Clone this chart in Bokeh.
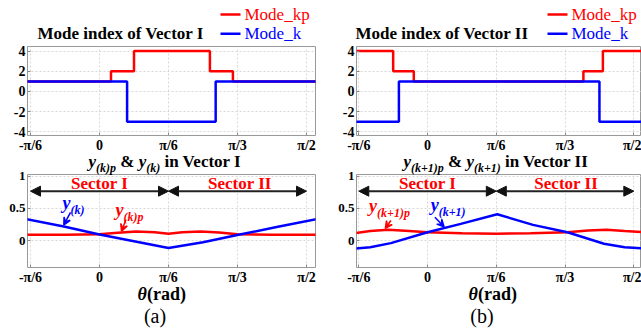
from bokeh.plotting import figure
from bokeh.layouts import row, column
from bokeh.models import FixedTicker, Label, Arrow, NormalHead, VeeHead, Range1d
from bokeh.embed import file_html
from bokeh.resources import INLINE

SERIF = "Liberation Serif"
RED = "#ff0000"
BLUE = "#0000ff"
W, H = 641, 333

# ---------------- data ----------------
tick_deg = [-30, 0, 30, 60, 90]
tick_labels = ["-π/6", "0", "π/6", "π/3", "π/2"]
mode_ticks = [-4, -2, 0, 2, 4]
y_ticks = [0, 0.5, 1]

# Mode index, Vector I (theta in degrees where the mode changes)
kp1_edges = [5, 15, 48, 58]
kp1_vals = [1, 2, 4, 2, 1]
k1_edges = [12, 50.5]
k1_vals = [1, -3, 1]
# Mode index, Vector II
kp2_edges = [-15, -6, 68, 76.5]
kp2_vals = [4, 2, 1, 2, 4]
k2_edges = [-12.5, 75]
k2_vals = [-3, 1, -3]

# y_(k) and y_(k)p in Vector I
th_yk1 = [-32, -15.5, 0, 15, 30, 45, 61, 77, 95]
yk1 = [0.335, 0.22, 0.094, -0.01, -0.115, -0.026, 0.094, 0.21, 0.34]
th_ykp1 = [-32, -15, 0, 8, 16, 24, 30, 36, 44, 52, 60, 75, 95]
ykp1 = [0.089, 0.092, 0.097, 0.12, 0.14, 0.13, 0.105, 0.13, 0.14, 0.125, 0.097, 0.092, 0.089]

# y_(k+1) and y_(k+1)p in Vector II
th_yk2 = [-32, -25, -16, 0, 14.5, 30.4, 46, 61, 77, 86, 95]
yk2 = [-0.125, -0.105, -0.04, 0.13, 0.26, 0.41, 0.245, 0.13, -0.05, -0.105, -0.125]
th_ykp2 = [-32, -25, -17, -8, 0, 15, 30, 45, 61, 70, 78, 86, 95]
ykp2 = [0.115, 0.15, 0.17, 0.15, 0.13, 0.115, 0.105, 0.115, 0.13, 0.155, 0.17, 0.15, 0.13]

XR_A = (-31.3, 93.9)
XR_B = (-31.0, 93.35)
YR_TOP = (-4.36, 4.455)
YR_BOT = (-0.42, 1.03)

BASE_FIX = 0.33  # svg text is drawn ~0.33em below the requested alphabetic baseline


def steps(edges, vals, lo=-40, hi=100):
    xs = [lo] + list(edges) + [hi]
    ys = list(vals) + [vals[-1]]
    return xs, ys


def style(p, yt, yfont):
    p.xaxis.ticker = FixedTicker(ticks=tick_deg)
    p.xaxis.major_label_overrides = dict(zip(tick_deg, tick_labels))
    p.yaxis.ticker = FixedTicker(ticks=yt)
    p.yaxis.major_label_overrides = {t: ("%g" % t) for t in yt}
    p.axis.major_label_text_font = SERIF
    p.axis.major_label_text_font_style = "bold"
    p.xaxis.major_label_text_font_size = "14px"
    p.yaxis.major_label_text_font_size = yfont
    p.axis.major_label_text_color = "black"
    p.axis.axis_line_color = None
    p.axis.major_tick_out = 0
    p.axis.major_tick_in = 3
    p.axis.major_tick_line_color = "#888888"
    p.axis.minor_tick_line_color = None
    p.xaxis.major_label_standoff = 2
    p.yaxis.major_label_standoff = 2
    p.outline_line_color = "#999999"
    p.outline_line_width = 1
    p.grid.grid_line_color = "#d8d8d8"
    p.grid.grid_line_dash = "2 2"
    p.background_fill_color = "white"
    p.border_fill_color = "white"


def lab(p, x, y, s, size, color="black", fstyle="bold", align="left", xo=0, yo=0):
    p.add_layout(Label(x=x, y=y, text=s, text_font=SERIF, text_font_size=f"{size}px",
                       text_font_style=fstyle, text_color=color, text_align=align,
                       text_baseline="alphabetic", x_offset=xo,
                       y_offset=yo + BASE_FIX * size))


def composite(p, x, y, pieces, color="black"):
    # pieces: (text, size, style, x_offset, y_offset)
    for s, size, fs, xo, yo in pieces:
        lab(p, x, y, s, size, color=color, fstyle=fs, xo=xo, yo=yo)


def top_fig(width, bl, br, xr, kp_e, kp_v, k_e, k_v):
    p = figure(width=width, height=155, x_range=Range1d(*xr), y_range=Range1d(*YR_TOP),
               output_backend="svg", toolbar_location=None,
               min_border_left=bl, min_border_right=br, min_border_top=46, min_border_bottom=18)
    style(p, mode_ticks, "14px")
    xs, ys = steps(kp_e, kp_v)
    p.step(xs, ys, mode="after", line_color=RED, line_width=2.5)
    xs, ys = steps(k_e, k_v)
    p.step(xs, ys, mode="after", line_color=BLUE, line_width=2.5)
    return p


def bot_fig(width, bl, br, xr):
    p = figure(width=width, height=178, x_range=Range1d(*xr), y_range=Range1d(*YR_BOT),
               output_backend="svg", toolbar_location=None,
               min_border_left=bl, min_border_right=br, min_border_top=19, min_border_bottom=66)
    style(p, y_ticks, "13px")
    for xa, xb in [(-30, 30), (30, 90)]:
        p.add_layout(Arrow(start=NormalHead(size=10, fill_color="#111111", line_color="#111111"),
                           end=NormalHead(size=10, fill_color="#111111", line_color="#111111"),
                           x_start=xa, y_start=0.77, x_end=xb, y_end=0.77,
                           line_color="#222222", line_width=2))
    return p


def pointer(p, xs, ys, xe, ye, color):
    p.add_layout(Arrow(end=VeeHead(size=7, fill_color=color, line_color=color, line_width=1.5),
                       x_start=xs, y_start=ys, x_end=xe, y_end=ye,
                       line_color=color, line_width=1.5))


# ---------------- panel (a) ----------------
pa_top = top_fig(335, 27, 20, XR_A, kp1_edges, kp1_vals, k1_edges, k1_vals)
pa_bot = bot_fig(335, 27, 20, XR_A)
pa_bot.line(th_ykp1, ykp1, line_color=RED, line_width=2.5)
pa_bot.line(th_yk1, yk1, line_color=BLUE, line_width=2.5)
lab(pa_bot, 0, 0.81, "Sector I", 17, color=RED, align="center")
lab(pa_bot, 61, 0.81, "Sector II", 17, color=RED, align="center")
composite(pa_bot, -16.1, 0.50, [("y", 18, "bold italic", 0, 0), ("(k)", 12, "bold italic", 8, -5)], BLUE)
composite(pa_bot, 7.0, 0.39, [("y", 18, "bold italic", 0, 0), ("(k)p", 12, "bold italic", 8, -5)], RED)
pointer(pa_bot, -12.6, 0.44, -15.5, 0.245, BLUE)
pointer(pa_bot, 11.5, 0.33, 9.6, 0.145, RED)

# ---------------- panel (b) ----------------
pb_top = top_fig(306, 20, 0, XR_B, kp2_edges, kp2_vals, k2_edges, k2_vals)
pb_bot = bot_fig(306, 20, 0, XR_B)
pb_bot.line(th_ykp2, ykp2, line_color=RED, line_width=2.5)
pb_bot.line(th_yk2, yk2, line_color=BLUE, line_width=2.5)
lab(pb_bot, 0, 0.81, "Sector I", 17, color=RED, align="center")
lab(pb_bot, 60.5, 0.81, "Sector II", 17, color=RED, align="center")
composite(pb_bot, -25.5, 0.453, [("y", 18, "bold italic", 0, 0), ("(k+1)p", 12, "bold italic", 8, -5)], RED)
composite(pb_bot, 1.4, 0.469, [("y", 18, "bold italic", 0, 0), ("(k+1)", 12, "bold italic", 8, -5)], BLUE)
pointer(pb_bot, -16.0, 0.313, -18.4, 0.19, RED)
pointer(pb_bot, 3.2, 0.364, 7.2, 0.215, BLUE)

# ---------------- transparent overlay for titles, legends and captions ----------------
ov = figure(width=W, height=H, x_range=Range1d(0, W), y_range=Range1d(H, 0),
            output_backend="svg", toolbar_location=None,
            x_axis_location=None, y_axis_location=None,
            min_border=0, min_border_left=0, min_border_right=0,
            min_border_top=0, min_border_bottom=0, margin=(-H, 0, 0, 0))
ov.grid.visible = False
ov.outline_line_color = None
ov.background_fill_color = None
ov.border_fill_color = None

# titles
lab(ov, 37, 38.5, "Mode index of Vector I", 17)
lab(ov, 355, 38.5, "Mode index of Vector II", 17)
# legends
for lx in (220, 547):
    ov.segment(x0=[lx, lx], y0=[14, 33.3], x1=[lx + 20, lx + 20], y1=[14, 33.3],
               line_color=[RED, BLUE], line_width=2.5)
    lab(ov, lx + 24, 19.5, "Mode_kp", 17, color=RED, fstyle="normal")
    lab(ov, lx + 24, 38.3, "Mode_k", 17, color=BLUE, fstyle="normal")
# lower-plot titles
composite(ov, 88, 167, [
    ("y", 17, "bold italic", 0, 0), ("(k)p", 12, "bold italic", 7.5, -4),
    ("&", 17, "bold", 31.7, 0), ("y", 17, "bold italic", 50.2, 0),
    ("(k)", 12, "bold italic", 57.7, -4), ("in Vector I", 17, "bold", 76.0, 0)])
composite(ov, 403, 167, [
    ("y", 17, "bold italic", 0, 0), ("(k+1)p", 12, "bold italic", 7.5, -4),
    ("&", 17, "bold", 44.5, 0), ("y", 17, "bold italic", 63.0, 0),
    ("(k+1)", 12, "bold italic", 70.5, -4), ("in Vector II", 17, "bold", 101.5, 0)])
# axis captions and panel letters
for tx, cx, letter in ((137, 154.5, "(a)"), (468, 481.5, "(b)")):
    composite(ov, tx, 299, [("θ", 18, "bold italic", 0, 0), ("(rad)", 18, "bold", 9.5, 0)])
    lab(ov, cx, 322, letter, 20, fstyle="normal", align="center")

layout = column(row(column(pa_top, pa_bot), column(pb_top, pb_bot)), ov)

open("out.html", "w").write(file_html(layout, INLINE))
